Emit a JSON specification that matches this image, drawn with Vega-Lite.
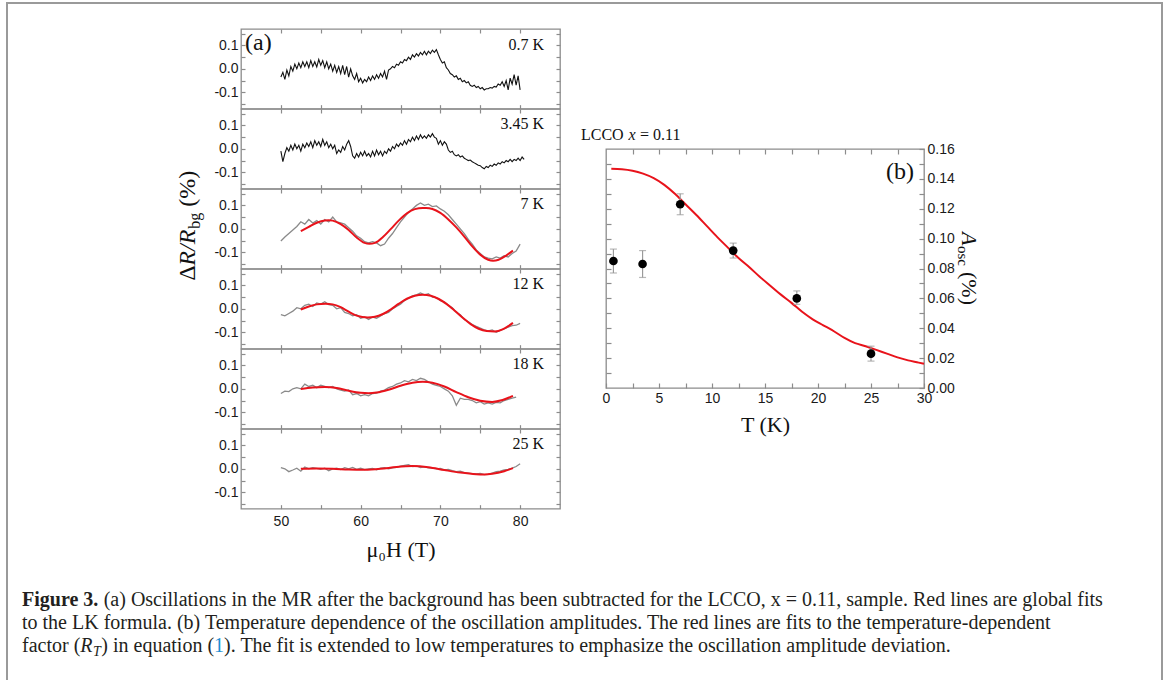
{
"$schema": "https://vega.github.io/schema/vega-lite/v6.json",
"padding": {"left": 6, "top": 2, "right": 0, "bottom": 0},
"background": "white",
"config": {
 "font": "Liberation Serif",
 "view": {"stroke": "#8c8c8c", "strokeWidth": 1.3},
 "axis": {"grid": false, "domain": false, "tickColor": "#8c8c8c", "tickWidth": 1.2, "labelFont": "Liberation Sans", "labelFontSize": 14, "labelColor": "#1a1a1a", "labelFlush": false, "labelOverlap": false, "titleFont": "Liberation Serif", "titleFontWeight": "normal", "titleColor": "#111111", "titleFontSize": 22},
 "text": {"font": "Liberation Serif", "color": "#111111"}
},
"datasets": {
 "black": [
  {"x":50,"a":-0.035,"b":-0.01},{"x":50.25,"a":-0.015,"b":-0.055},{"x":50.5,"a":-0.045,"b":-0.02},{"x":50.75,"a":-0.005,"b":0.005},
  {"x":51,"a":-0.03,"b":-0.01},{"x":51.25,"a":0.01,"b":0.015},{"x":51.5,"a":-0.01,"b":-0.005},{"x":51.75,"a":0.02,"b":0.02},
  {"x":52,"a":0.0,"b":0.0},{"x":52.25,"a":0.025,"b":0.015},{"x":52.5,"a":0.005,"b":-0.01},{"x":52.75,"a":0.03,"b":0.02},
  {"x":53,"a":0.01,"b":0.005},{"x":53.25,"a":0.03,"b":0.025},{"x":53.5,"a":0.005,"b":0.01},{"x":53.75,"a":0.035,"b":0.03},
  {"x":54,"a":0.01,"b":0.005},{"x":54.25,"a":0.03,"b":0.035},{"x":54.5,"a":0.008,"b":0.015},{"x":54.75,"a":0.04,"b":0.03},
  {"x":55,"a":0.015,"b":0.01},{"x":55.25,"a":0.035,"b":0.04},{"x":55.5,"a":0.005,"b":0.015},{"x":55.75,"a":0.03,"b":0.03},
  {"x":56,"a":0.0,"b":0.005},{"x":56.25,"a":0.02,"b":0.02},{"x":56.5,"a":-0.01,"b":0.0},{"x":56.75,"a":0.015,"b":0.015},
  {"x":57,"a":-0.015,"b":-0.02},{"x":57.25,"a":0.01,"b":-0.005},{"x":57.5,"a":-0.02,"b":-0.015},{"x":57.75,"a":0.015,"b":0.01},
  {"x":58,"a":-0.025,"b":-0.005},{"x":58.25,"a":0.01,"b":0.02},{"x":58.5,"a":-0.035,"b":0.035},{"x":58.75,"a":0.0,"b":0.01},
  {"x":59,"a":-0.03,"b":-0.03},{"x":59.25,"a":-0.045,"b":-0.04},{"x":59.5,"a":-0.02,"b":-0.02},{"x":59.75,"a":-0.055,"b":-0.035},
  {"x":60,"a":-0.04,"b":-0.015},{"x":60.25,"a":-0.06,"b":-0.03},{"x":60.5,"a":-0.045,"b":-0.01},{"x":60.75,"a":-0.055,"b":-0.03},
  {"x":61,"a":-0.035,"b":-0.02},{"x":61.25,"a":-0.05,"b":-0.035},{"x":61.5,"a":-0.03,"b":-0.01},{"x":61.75,"a":-0.045,"b":-0.03},
  {"x":62,"a":-0.025,"b":-0.005},{"x":62.25,"a":-0.04,"b":-0.025},{"x":62.5,"a":-0.02,"b":-0.01},{"x":62.75,"a":-0.035,"b":-0.03},
  {"x":63,"a":-0.01,"b":-0.01},{"x":63.25,"a":-0.045,"b":-0.02},{"x":63.5,"a":-0.005,"b":0.0},{"x":63.75,"a":0.0,"b":-0.01},
  {"x":64,"a":0.01,"b":0.01},{"x":64.25,"a":0.005,"b":0.0},{"x":64.5,"a":0.02,"b":0.02},{"x":64.75,"a":0.015,"b":0.01},
  {"x":65,"a":0.03,"b":0.025},{"x":65.25,"a":0.025,"b":0.015},{"x":65.5,"a":0.04,"b":0.035},{"x":65.75,"a":0.035,"b":0.02},
  {"x":66,"a":0.05,"b":0.04},{"x":66.25,"a":0.04,"b":0.03},{"x":66.5,"a":0.06,"b":0.05},{"x":66.75,"a":0.05,"b":0.035},
  {"x":67,"a":0.065,"b":0.055},{"x":67.25,"a":0.055,"b":0.04},{"x":67.5,"a":0.07,"b":0.06},{"x":67.75,"a":0.06,"b":0.045},
  {"x":68,"a":0.075,"b":0.055},{"x":68.25,"a":0.06,"b":0.045},{"x":68.5,"a":0.075,"b":0.06},{"x":68.75,"a":0.065,"b":0.05},
  {"x":69,"a":0.08,"b":0.065},{"x":69.25,"a":0.07,"b":0.05},{"x":69.5,"a":0.082,"b":0.045},{"x":69.75,"a":0.06,"b":0.02},
  {"x":70,"a":0.04,"b":0.035},{"x":70.25,"a":0.025,"b":0.015},{"x":70.5,"a":0.03,"b":0.03},{"x":70.75,"a":0.005,"b":0.02},
  {"x":71,"a":-0.005,"b":-0.005},{"x":71.25,"a":-0.02,"b":-0.015},{"x":71.5,"a":-0.025,"b":-0.01},{"x":71.75,"a":-0.035,"b":-0.025},
  {"x":72,"a":-0.03,"b":-0.03},{"x":72.25,"a":-0.045,"b":-0.025},{"x":72.5,"a":-0.04,"b":-0.035},{"x":72.75,"a":-0.055,"b":-0.03},
  {"x":73,"a":-0.05,"b":-0.04},{"x":73.25,"a":-0.06,"b":-0.045},{"x":73.5,"a":-0.055,"b":-0.05},{"x":73.75,"a":-0.07,"b":-0.048},
  {"x":74,"a":-0.075,"b":-0.055},{"x":74.25,"a":-0.07,"b":-0.06},{"x":74.5,"a":-0.08,"b":-0.065},{"x":74.75,"a":-0.075,"b":-0.07},
  {"x":75,"a":-0.085,"b":-0.072},{"x":75.25,"a":-0.08,"b":-0.08},{"x":75.5,"a":-0.09,"b":-0.085},{"x":75.75,"a":-0.085,"b":-0.075},
  {"x":76,"a":-0.085,"b":-0.08},{"x":76.25,"a":-0.08,"b":-0.07},{"x":76.5,"a":-0.082,"b":-0.075},{"x":76.75,"a":-0.075,"b":-0.065},
  {"x":77,"a":-0.078,"b":-0.07},{"x":77.25,"a":-0.065,"b":-0.06},{"x":77.5,"a":-0.07,"b":-0.065},{"x":77.75,"a":-0.055,"b":-0.055},
  {"x":78,"a":-0.075,"b":-0.06},{"x":78.25,"a":-0.05,"b":-0.05},{"x":78.5,"a":-0.09,"b":-0.055},{"x":78.75,"a":-0.04,"b":-0.045},
  {"x":79,"a":-0.065,"b":-0.055},{"x":79.25,"a":-0.025,"b":-0.045},{"x":79.5,"a":-0.07,"b":-0.05},{"x":79.75,"a":-0.03,"b":-0.04},
  {"x":80,"a":-0.09,"b":-0.05},{"x":80.25,"b":-0.035},{"x":80.5,"b":-0.045}
 ],
 "gray": [
  {"x":50,"g7":-0.052,"g12":-0.025,"g18":-0.02,"g25":0.005},
  {"x":50.5,"g7":-0.035,"g12":-0.03,"g18":-0.01,"g25":0.0},
  {"x":51,"g7":-0.02,"g12":-0.02,"g18":-0.012,"g25":-0.012},
  {"x":51.5,"g7":-0.005,"g12":-0.01,"g18":0.0,"g25":-0.005},
  {"x":52,"g7":0.01,"g12":0.005,"g18":0.005,"g25":0.003},
  {"x":52.5,"g7":0.03,"g12":0.0,"g18":0.0,"g25":-0.01},
  {"x":53,"g7":0.02,"g12":0.015,"g18":0.02,"g25":0.008},
  {"x":53.5,"g7":0.04,"g12":0.02,"g18":0.01,"g25":0.0},
  {"x":54,"g7":0.025,"g12":0.01,"g18":0.015,"g25":0.005},
  {"x":54.5,"g7":0.035,"g12":0.025,"g18":0.005,"g25":0.002},
  {"x":55,"g7":0.02,"g12":0.02,"g18":0.015,"g25":-0.002},
  {"x":55.5,"g7":0.04,"g12":0.03,"g18":0.01,"g25":0.003},
  {"x":56,"g7":0.03,"g12":0.018,"g18":0.005,"g25":-0.008},
  {"x":56.5,"g7":0.05,"g12":0.015,"g18":0.01,"g25":0.0},
  {"x":57,"g7":0.03,"g12":0.0,"g18":0.0,"g25":0.003},
  {"x":57.5,"g7":0.025,"g12":0.005,"g18":-0.005,"g25":-0.003},
  {"x":58,"g7":0.02,"g12":-0.015,"g18":-0.01,"g25":0.005},
  {"x":58.5,"g7":0.005,"g12":-0.02,"g18":-0.005,"g25":0.0},
  {"x":59,"g7":-0.01,"g12":-0.03,"g18":-0.025,"g25":0.006},
  {"x":59.5,"g7":-0.03,"g12":-0.025,"g18":-0.02,"g25":-0.002},
  {"x":60,"g7":-0.04,"g12":-0.04,"g18":-0.03,"g25":0.003},
  {"x":60.5,"g7":-0.055,"g12":-0.035,"g18":-0.025,"g25":-0.003},
  {"x":61,"g7":-0.06,"g12":-0.045,"g18":-0.03,"g25":0.0},
  {"x":61.5,"g7":-0.055,"g12":-0.035,"g18":-0.02,"g25":0.002},
  {"x":62,"g7":-0.06,"g12":-0.04,"g18":-0.018,"g25":-0.004},
  {"x":62.5,"g7":-0.072,"g12":-0.03,"g18":-0.01,"g25":0.003},
  {"x":63,"g7":-0.065,"g12":-0.02,"g18":-0.005,"g25":0.005},
  {"x":63.5,"g7":-0.04,"g12":-0.015,"g18":0.005,"g25":0.0},
  {"x":64,"g7":-0.02,"g12":0.0,"g18":0.01,"g25":0.004},
  {"x":64.5,"g7":0.005,"g12":0.01,"g18":0.02,"g25":0.006},
  {"x":65,"g7":0.03,"g12":0.02,"g18":0.025,"g25":0.012},
  {"x":65.5,"g7":0.05,"g12":0.035,"g18":0.035,"g25":0.015},
  {"x":66,"g7":0.07,"g12":0.045,"g18":0.03,"g25":0.018},
  {"x":66.5,"g7":0.085,"g12":0.055,"g18":0.04,"g25":0.01},
  {"x":67,"g7":0.1,"g12":0.06,"g18":0.035,"g25":0.012},
  {"x":67.5,"g7":0.11,"g12":0.068,"g18":0.045,"g25":0.005},
  {"x":68,"g7":0.1,"g12":0.06,"g18":0.04,"g25":0.008},
  {"x":68.5,"g7":0.105,"g12":0.065,"g18":0.03,"g25":0.004},
  {"x":69,"g7":0.095,"g12":0.05,"g18":0.02,"g25":0.003},
  {"x":69.5,"g7":0.098,"g12":0.048,"g18":0.015,"g25":0.0},
  {"x":70,"g7":0.085,"g12":0.035,"g18":0.01,"g25":0.002},
  {"x":70.5,"g7":0.075,"g12":0.03,"g18":0.0,"g25":-0.004},
  {"x":71,"g7":0.06,"g12":0.015,"g18":-0.01,"g25":-0.002},
  {"x":71.5,"g7":0.04,"g12":0.005,"g18":-0.03,"g25":-0.008},
  {"x":72,"g7":0.02,"g12":-0.015,"g18":-0.07,"g25":-0.012},
  {"x":72.5,"g7":0.0,"g12":-0.025,"g18":-0.04,"g25":-0.01},
  {"x":73,"g7":-0.02,"g12":-0.045,"g18":-0.045,"g25":-0.016},
  {"x":73.5,"g7":-0.045,"g12":-0.055,"g18":-0.045,"g25":-0.018},
  {"x":74,"g7":-0.065,"g12":-0.067,"g18":-0.05,"g25":-0.02},
  {"x":74.5,"g7":-0.09,"g12":-0.075,"g18":-0.06,"g25":-0.022},
  {"x":75,"g7":-0.105,"g12":-0.082,"g18":-0.055,"g25":-0.02},
  {"x":75.5,"g7":-0.12,"g12":-0.09,"g18":-0.065,"g25":-0.025},
  {"x":76,"g7":-0.125,"g12":-0.094,"g18":-0.06,"g25":-0.024},
  {"x":76.5,"g7":-0.128,"g12":-0.09,"g18":-0.065,"g25":-0.018},
  {"x":77,"g7":-0.12,"g12":-0.1,"g18":-0.058,"g25":-0.012},
  {"x":77.5,"g7":-0.125,"g12":-0.092,"g18":-0.06,"g25":-0.01},
  {"x":78,"g7":-0.115,"g12":-0.085,"g18":-0.05,"g25":-0.005},
  {"x":78.5,"g7":-0.12,"g12":-0.078,"g18":-0.045,"g25":-0.002},
  {"x":79,"g7":-0.105,"g12":-0.072,"g18":-0.04,"g25":0.003},
  {"x":79.5,"g7":-0.095,"g12":-0.07,"g18":-0.035,"g25":0.01},
  {"x":80,"g7":-0.065,"g12":-0.062,"g25":0.022}
 ],
 "fits": [
  {"k":"7","x":52.5,"y":-0.010},{"k":"7","x":53.5,"y":0.008},{"k":"7","x":54.5,"y":0.026},{"k":"7","x":55.5,"y":0.036},{"k":"7","x":56.0,"y":0.037},{"k":"7","x":56.5,"y":0.035},{"k":"7","x":57.5,"y":0.020},{"k":"7","x":58.5,"y":-0.005},{"k":"7","x":59.5,"y":-0.037},{"k":"7","x":60.5,"y":-0.060},{"k":"7","x":61.1,"y":-0.064},{"k":"7","x":61.8,"y":-0.060},{"k":"7","x":62.8,"y":-0.035},{"k":"7","x":63.8,"y":0.000},{"k":"7","x":64.8,"y":0.036},{"k":"7","x":65.8,"y":0.066},{"k":"7","x":66.8,"y":0.084},{"k":"7","x":67.8,"y":0.089},{"k":"7","x":68.2,"y":0.089},{"k":"7","x":69.0,"y":0.085},{"k":"7","x":70.0,"y":0.068},{"k":"7","x":71.0,"y":0.040},{"k":"7","x":72.0,"y":0.006},{"k":"7","x":73.0,"y":-0.033},{"k":"7","x":74.0,"y":-0.075},{"k":"7","x":75.0,"y":-0.110},{"k":"7","x":76.0,"y":-0.132},{"k":"7","x":76.6,"y":-0.136},{"k":"7","x":77.3,"y":-0.132},{"k":"7","x":78.2,"y":-0.115},{"k":"7","x":79.1,"y":-0.093},
  {"k":"12","x":52.5,"y":-0.003},{"k":"12","x":53.5,"y":0.010},{"k":"12","x":54.5,"y":0.019},{"k":"12","x":55.6,"y":0.022},{"k":"12","x":56.5,"y":0.019},{"k":"12","x":57.5,"y":0.007},{"k":"12","x":58.5,"y":-0.012},{"k":"12","x":59.5,"y":-0.029},{"k":"12","x":60.9,"y":-0.037},{"k":"12","x":61.8,"y":-0.034},{"k":"12","x":62.8,"y":-0.022},{"k":"12","x":63.8,"y":-0.002},{"k":"12","x":64.8,"y":0.022},{"k":"12","x":65.8,"y":0.043},{"k":"12","x":66.8,"y":0.056},{"k":"12","x":67.8,"y":0.060},{"k":"12","x":68.8,"y":0.056},{"k":"12","x":69.8,"y":0.042},{"k":"12","x":70.8,"y":0.020},{"k":"12","x":71.8,"y":-0.008},{"k":"12","x":72.8,"y":-0.038},{"k":"12","x":73.8,"y":-0.065},{"k":"12","x":74.8,"y":-0.085},{"k":"12","x":75.8,"y":-0.095},{"k":"12","x":76.8,"y":-0.097},{"k":"12","x":77.8,"y":-0.088},{"k":"12","x":78.5,"y":-0.074},{"k":"12","x":79.1,"y":-0.060},
  {"k":"18","x":52.5,"y":-0.001},{"k":"18","x":54.0,"y":0.006},{"k":"18","x":55.5,"y":0.008},{"k":"18","x":57.0,"y":0.004},{"k":"18","x":58.5,"y":-0.008},{"k":"18","x":60.0,"y":-0.017},{"k":"18","x":61.0,"y":-0.019},{"k":"18","x":62.0,"y":-0.016},{"k":"18","x":63.5,"y":-0.004},{"k":"18","x":65.0,"y":0.013},{"k":"18","x":66.5,"y":0.026},{"k":"18","x":67.8,"y":0.030},{"k":"18","x":69.0,"y":0.026},{"k":"18","x":70.5,"y":0.010},{"k":"18","x":72.0,"y":-0.014},{"k":"18","x":73.5,"y":-0.036},{"k":"18","x":75.0,"y":-0.051},{"k":"18","x":76.5,"y":-0.056},{"k":"18","x":77.8,"y":-0.048},{"k":"18","x":79.1,"y":-0.030},
  {"k":"25","x":52.5,"y":0.0},{"k":"25","x":54.5,"y":0.001},{"k":"25","x":56.5,"y":0.0},{"k":"25","x":58.5,"y":-0.003},{"k":"25","x":60.5,"y":-0.004},{"k":"25","x":62.5,"y":0.0},{"k":"25","x":64.5,"y":0.008},{"k":"25","x":66.5,"y":0.012},{"k":"25","x":68.5,"y":0.007},{"k":"25","x":70.5,"y":-0.005},{"k":"25","x":72.5,"y":-0.016},{"k":"25","x":74.5,"y":-0.023},{"k":"25","x":75.5,"y":-0.024},{"k":"25","x":76.5,"y":-0.021},{"k":"25","x":78.0,"y":-0.010},{"k":"25","x":79.1,"y":0.003}
 ],
 "fitB": [
  {"T":0.5,"A":0.1468},{"T":1.5,"A":0.1465},{"T":2.5,"A":0.1455},{"T":3.5,"A":0.1435},{"T":4.5,"A":0.1405},{"T":5.5,"A":0.136},{"T":6.5,"A":0.130},{"T":7.5,"A":0.123},{"T":8.5,"A":0.116},{"T":9.5,"A":0.1085},{"T":10.5,"A":0.101},{"T":11.5,"A":0.094},{"T":12.5,"A":0.087},{"T":13.5,"A":0.081},{"T":14.5,"A":0.0745},{"T":15.5,"A":0.0685},{"T":16.5,"A":0.0625},{"T":17.5,"A":0.057},{"T":18.5,"A":0.051},{"T":19.5,"A":0.046},{"T":20.5,"A":0.042},{"T":21.5,"A":0.038},{"T":22.5,"A":0.0335},{"T":23.5,"A":0.030},{"T":24.5,"A":0.028},{"T":25.5,"A":0.0255},{"T":26.5,"A":0.023},{"T":27.5,"A":0.0205},{"T":28.5,"A":0.0185},{"T":29.5,"A":0.017},{"T":30,"A":0.0162}
 ],
 "pts": [
  {"T":0.7,"A":0.085,"lo":0.077,"hi":0.093},{"T":3.45,"A":0.083,"lo":0.074,"hi":0.092},{"T":7,"A":0.123,"lo":0.116,"hi":0.130},{"T":12,"A":0.092,"lo":0.087,"hi":0.097},{"T":18,"A":0.060,"lo":0.056,"hi":0.065},{"T":25,"A":0.023,"lo":0.018,"hi":0.028}
 ],
 "caption": [
  {"line":1,"part":"b","text":"Figure 3."},
  {"line":1,"part":"a1","text":"(a) Oscillations in the MR after the background has been subtracted for the LCCO, x = 0.11, sample. Red lines are global fits"},
  {"line":2,"part":"l2","text":"to the LK formula. (b) Temperature dependence of the oscillation amplitudes. The red lines are fits to the temperature-dependent"},
  {"line":3,"part":"c1","text":"factor ("},
  {"line":3,"part":"cR","text":"R"},
  {"line":3,"part":"cT","text":"T"},
  {"line":3,"part":"c2","text":") in equation ("},
  {"line":3,"part":"cB","text":"1"},
  {"line":3,"part":"c3","text":"). The fit is extended to low temperatures to emphasize the oscillation amplitude deviation."}
 ]
},
"spacing": 0,
"bounds": "full",
"vconcat": [
 {"width": 1157, "height": 2, "data": {"values": []}, "mark": {"type": "point", "opacity": 0}, "encoding": {}, "view": {"stroke": null, "fill": "#9a9a9a"}},
 {"spacing": 0, "bounds": "full", "hconcat": [
  {"width": 2, "height": 676, "data": {"values": []}, "mark": {"type": "point", "opacity": 0}, "encoding": {}, "view": {"stroke": null, "fill": "#9a9a9a"}},
  {"spacing": 0, "bounds": "full", "vconcat": [
   {"width": 1, "height": 21.5, "data": {"values": []}, "mark": {"type": "point", "opacity": 0}, "encoding": {}, "view": {"stroke": null}},
   {"spacing": 0, "bounds": "full", "hconcat": [
    {"width": 167, "height": 1, "data": {"values": []}, "mark": {"type": "point", "opacity": 0}, "encoding": {}, "view": {"stroke": null}},
    {"spacing": 0, "bounds": "flush", "vconcat": [
     {"width": 319, "height": 79.67,
      "layer": [
       {"data": {"name": "black"}, "mark": {"type": "line", "color": "#111111", "strokeWidth": 1.1},
        "encoding": {
         "x": {"field": "x", "type": "quantitative", "scale": {"domain": [45, 85], "nice": false, "zero": false}, "axis": {"orient": "bottom", "values": [50,55,60,65,70,75,80], "labels": false, "tickSize": -4, "title": null}},
         "y": {"field": "a", "type": "quantitative", "scale": {"domain": [-0.17, 0.17], "nice": false, "zero": false}, "axis": {"orient": "left", "values": [-0.15,-0.1,-0.05,0,0.05,0.1,0.15], "tickSize": -4, "labelPadding": 7, "title": null, "labelExpr": "datum.value == 0.1 || datum.value == -0.1 || datum.value == 0 ? replace(format(datum.value, '.1f'), '−', '-') : ''"}}
        }},
       {"data": {"values": [{"label": "0.7 K"}]}, "mark": {"type": "text", "align": "right", "baseline": "alphabetic", "dx": -16, "dy": 21, "fontSize": 16},
        "encoding": {
         "x": {"datum": 85, "type": "quantitative", "axis": {"orient": "top", "values": [50,55,60,65,70,75,80], "labels": false, "tickSize": -4, "title": null}},
         "y": {"datum": 0.17, "type": "quantitative", "axis": {"orient": "right", "values": [-0.15,-0.1,-0.05,0,0.05,0.1,0.15], "labels": false, "tickSize": -4, "title": null}},
         "text": {"field": "label"}}},
       {"data": {"values": [{"label": "(a)"}]}, "mark": {"type": "text", "align": "left", "baseline": "top", "dx": 4, "dy": 2, "fontSize": 24},
        "encoding": {"x": {"datum": 45, "type": "quantitative", "axis": null}, "y": {"datum": 0.17, "type": "quantitative", "axis": null}, "text": {"field": "label"}}}
      ],
      "resolve": {"axis": {"x": "independent", "y": "independent"}}},
     {"width": 319, "height": 79.67,
      "layer": [
       {"data": {"name": "black"}, "mark": {"type": "line", "color": "#111111", "strokeWidth": 1.1},
        "encoding": {
         "x": {"field": "x", "type": "quantitative", "scale": {"domain": [45, 85], "nice": false, "zero": false}, "axis": {"orient": "bottom", "values": [50,55,60,65,70,75,80], "labels": false, "tickSize": -4, "title": null}},
         "y": {"field": "b", "type": "quantitative", "scale": {"domain": [-0.17, 0.17], "nice": false, "zero": false}, "axis": {"orient": "left", "values": [-0.15,-0.1,-0.05,0,0.05,0.1,0.15], "tickSize": -4, "labelPadding": 7, "title": null, "labelExpr": "datum.value == 0.1 || datum.value == -0.1 || datum.value == 0 ? replace(format(datum.value, '.1f'), '−', '-') : ''"}}
        }},
       {"data": {"values": [{"label": "3.45 K"}]}, "mark": {"type": "text", "align": "right", "baseline": "alphabetic", "dx": -16, "dy": 20, "fontSize": 16},
        "encoding": {
         "x": {"datum": 85, "type": "quantitative", "axis": {"orient": "top", "values": [50,55,60,65,70,75,80], "labels": false, "tickSize": -4, "title": null}},
         "y": {"datum": 0.17, "type": "quantitative", "axis": {"orient": "right", "values": [-0.15,-0.1,-0.05,0,0.05,0.1,0.15], "labels": false, "tickSize": -4, "title": null}},
         "text": {"field": "label"}}}
      ],
      "resolve": {"axis": {"x": "independent", "y": "independent"}}},
     {"width": 319, "height": 79.67,
      "layer": [
       {"data": {"name": "gray"}, "mark": {"type": "line", "color": "#8a8a8a", "strokeWidth": 1.3},
        "encoding": {
         "x": {"field": "x", "type": "quantitative", "scale": {"domain": [45, 85], "nice": false, "zero": false}, "axis": {"orient": "bottom", "values": [50,55,60,65,70,75,80], "labels": false, "tickSize": -4, "title": null}},
         "y": {"field": "g7", "type": "quantitative", "scale": {"domain": [-0.17, 0.17], "nice": false, "zero": false}, "axis": {"orient": "left", "values": [-0.15,-0.1,-0.05,0,0.05,0.1,0.15], "tickSize": -4, "labelPadding": 7, "title": null, "labelExpr": "datum.value == 0.1 || datum.value == -0.1 || datum.value == 0 ? replace(format(datum.value, '.1f'), '−', '-') : ''"}}
        }},
       {"data": {"name": "fits"}, "transform": [{"filter": "datum.k == '7'"}], "mark": {"type": "line", "color": "#e8131b", "strokeWidth": 2, "interpolate": "monotone"},
        "encoding": {"x": {"field": "x", "type": "quantitative", "axis": null}, "y": {"field": "y", "type": "quantitative", "axis": null}}},
       {"data": {"values": [{"label": "7 K"}]}, "mark": {"type": "text", "align": "right", "baseline": "alphabetic", "dx": -16, "dy": 20, "fontSize": 16},
        "encoding": {
         "x": {"datum": 85, "type": "quantitative", "axis": {"orient": "top", "values": [50,55,60,65,70,75,80], "labels": false, "tickSize": -4, "title": null}},
         "y": {"datum": 0.17, "type": "quantitative", "axis": {"orient": "right", "values": [-0.15,-0.1,-0.05,0,0.05,0.1,0.15], "labels": false, "tickSize": -4, "title": null}},
         "text": {"field": "label"}}},
       {"data": {"values": [{"t": "Δ"}]}, "mark": {"type": "text", "angle": 270, "align": "left", "baseline": "middle", "dx": -12, "dy": -53, "fontSize": 24},
        "encoding": {"x": {"datum": 45, "type": "quantitative", "axis": null}, "y": {"datum": -0.17, "type": "quantitative", "axis": null}, "text": {"field": "t"}}},
       {"data": {"values": [{"t": "R/R"}]}, "mark": {"type": "text", "angle": 270, "align": "left", "baseline": "middle", "dx": 3, "dy": -53, "fontSize": 24, "fontStyle": "italic"},
        "encoding": {"x": {"datum": 45, "type": "quantitative", "axis": null}, "y": {"datum": -0.17, "type": "quantitative", "axis": null}, "text": {"field": "t"}}},
       {"data": {"values": [{"t": "bg"}]}, "mark": {"type": "text", "angle": 270, "align": "left", "baseline": "middle", "dx": 40, "dy": -46, "fontSize": 16},
        "encoding": {"x": {"datum": 45, "type": "quantitative", "axis": null}, "y": {"datum": -0.17, "type": "quantitative", "axis": null}, "text": {"field": "t"}}},
       {"data": {"values": [{"t": "(%)"}]}, "mark": {"type": "text", "angle": 270, "align": "left", "baseline": "middle", "dx": 62, "dy": -53, "fontSize": 24},
        "encoding": {"x": {"datum": 45, "type": "quantitative", "axis": null}, "y": {"datum": -0.17, "type": "quantitative", "axis": null}, "text": {"field": "t"}}}
      ],
      "resolve": {"axis": {"x": "independent", "y": "independent"}}},
     {"width": 319, "height": 79.67,
      "layer": [
       {"data": {"name": "gray"}, "mark": {"type": "line", "color": "#8a8a8a", "strokeWidth": 1.3},
        "encoding": {
         "x": {"field": "x", "type": "quantitative", "scale": {"domain": [45, 85], "nice": false, "zero": false}, "axis": {"orient": "bottom", "values": [50,55,60,65,70,75,80], "labels": false, "tickSize": -4, "title": null}},
         "y": {"field": "g12", "type": "quantitative", "scale": {"domain": [-0.17, 0.17], "nice": false, "zero": false}, "axis": {"orient": "left", "values": [-0.15,-0.1,-0.05,0,0.05,0.1,0.15], "tickSize": -4, "labelPadding": 7, "title": null, "labelExpr": "datum.value == 0.1 || datum.value == -0.1 || datum.value == 0 ? replace(format(datum.value, '.1f'), '−', '-') : ''"}}
        }},
       {"data": {"name": "fits"}, "transform": [{"filter": "datum.k == '12'"}], "mark": {"type": "line", "color": "#e8131b", "strokeWidth": 2, "interpolate": "monotone"},
        "encoding": {"x": {"field": "x", "type": "quantitative", "axis": null}, "y": {"field": "y", "type": "quantitative", "axis": null}}},
       {"data": {"values": [{"label": "12 K"}]}, "mark": {"type": "text", "align": "right", "baseline": "alphabetic", "dx": -16, "dy": 20, "fontSize": 16},
        "encoding": {
         "x": {"datum": 85, "type": "quantitative", "axis": {"orient": "top", "values": [50,55,60,65,70,75,80], "labels": false, "tickSize": -4, "title": null}},
         "y": {"datum": 0.17, "type": "quantitative", "axis": {"orient": "right", "values": [-0.15,-0.1,-0.05,0,0.05,0.1,0.15], "labels": false, "tickSize": -4, "title": null}},
         "text": {"field": "label"}}}
      ],
      "resolve": {"axis": {"x": "independent", "y": "independent"}}},
     {"width": 319, "height": 79.67,
      "layer": [
       {"data": {"name": "gray"}, "mark": {"type": "line", "color": "#8a8a8a", "strokeWidth": 1.3},
        "encoding": {
         "x": {"field": "x", "type": "quantitative", "scale": {"domain": [45, 85], "nice": false, "zero": false}, "axis": {"orient": "bottom", "values": [50,55,60,65,70,75,80], "labels": false, "tickSize": -4, "title": null}},
         "y": {"field": "g18", "type": "quantitative", "scale": {"domain": [-0.17, 0.17], "nice": false, "zero": false}, "axis": {"orient": "left", "values": [-0.15,-0.1,-0.05,0,0.05,0.1,0.15], "tickSize": -4, "labelPadding": 7, "title": null, "labelExpr": "datum.value == 0.1 || datum.value == -0.1 || datum.value == 0 ? replace(format(datum.value, '.1f'), '−', '-') : ''"}}
        }},
       {"data": {"name": "fits"}, "transform": [{"filter": "datum.k == '18'"}], "mark": {"type": "line", "color": "#e8131b", "strokeWidth": 2, "interpolate": "monotone"},
        "encoding": {"x": {"field": "x", "type": "quantitative", "axis": null}, "y": {"field": "y", "type": "quantitative", "axis": null}}},
       {"data": {"values": [{"label": "18 K"}]}, "mark": {"type": "text", "align": "right", "baseline": "alphabetic", "dx": -16, "dy": 20, "fontSize": 16},
        "encoding": {
         "x": {"datum": 85, "type": "quantitative", "axis": {"orient": "top", "values": [50,55,60,65,70,75,80], "labels": false, "tickSize": -4, "title": null}},
         "y": {"datum": 0.17, "type": "quantitative", "axis": {"orient": "right", "values": [-0.15,-0.1,-0.05,0,0.05,0.1,0.15], "labels": false, "tickSize": -4, "title": null}},
         "text": {"field": "label"}}}
      ],
      "resolve": {"axis": {"x": "independent", "y": "independent"}}},
     {"width": 319, "height": 79.67,
      "layer": [
       {"data": {"name": "gray"}, "mark": {"type": "line", "color": "#8a8a8a", "strokeWidth": 1.3},
        "encoding": {
         "x": {"field": "x", "type": "quantitative", "scale": {"domain": [45, 85], "nice": false, "zero": false}, "axis": {"orient": "bottom", "values": [50,55,60,65,70,75,80], "tickSize": -4, "labelPadding": 10, "labelExpr": "datum.value % 10 == 0 ? datum.label : ''", "title": "μ₀H (T)", "titlePadding": 11}},
         "y": {"field": "g25", "type": "quantitative", "scale": {"domain": [-0.17, 0.17], "nice": false, "zero": false}, "axis": {"orient": "left", "values": [-0.15,-0.1,-0.05,0,0.05,0.1,0.15], "tickSize": -4, "labelPadding": 7, "title": null, "labelExpr": "datum.value == 0.1 || datum.value == -0.1 || datum.value == 0 ? replace(format(datum.value, '.1f'), '−', '-') : ''"}}
        }},
       {"data": {"name": "fits"}, "transform": [{"filter": "datum.k == '25'"}], "mark": {"type": "line", "color": "#e8131b", "strokeWidth": 2, "interpolate": "monotone"},
        "encoding": {"x": {"field": "x", "type": "quantitative", "axis": null}, "y": {"field": "y", "type": "quantitative", "axis": null}}},
       {"data": {"values": [{"label": "25 K"}]}, "mark": {"type": "text", "align": "right", "baseline": "alphabetic", "dx": -16, "dy": 20, "fontSize": 16},
        "encoding": {
         "x": {"datum": 85, "type": "quantitative", "axis": {"orient": "top", "values": [50,55,60,65,70,75,80], "labels": false, "tickSize": -4, "title": null}},
         "y": {"datum": 0.17, "type": "quantitative", "axis": {"orient": "right", "values": [-0.15,-0.1,-0.05,0,0.05,0.1,0.15], "labels": false, "tickSize": -4, "title": null}},
         "text": {"field": "label"}}}
      ],
      "resolve": {"axis": {"x": "independent", "y": "independent"}}}
    ]},
    {"width": 18, "height": 1, "data": {"values": []}, "mark": {"type": "point", "opacity": 0}, "encoding": {}, "view": {"stroke": null}},
    {"spacing": 0, "bounds": "flush", "vconcat": [
     {"width": 1, "height": 120, "data": {"values": []}, "mark": {"type": "point", "opacity": 0}, "encoding": {}, "view": {"stroke": null}},
     {"width": 318, "height": 239,
      "layer": [
       {"data": {"name": "fitB"}, "mark": {"type": "line", "color": "#e8131b", "strokeWidth": 2, "interpolate": "monotone"},
        "encoding": {
         "x": {"field": "T", "type": "quantitative", "scale": {"domain": [0, 30], "nice": false, "zero": false}, "axis": {"orient": "top", "values": [2.5,5,7.5,10,12.5,15,17.5,20,22.5,25,27.5], "labels": false, "tickSize": -5, "title": null}},
         "y": {"field": "A", "type": "quantitative", "scale": {"domain": [0, 0.16], "nice": false, "zero": false}, "axis": {"orient": "left", "values": [0.01,0.02,0.03,0.04,0.05,0.06,0.07,0.08,0.09,0.1,0.11,0.12,0.13,0.14,0.15], "labels": false, "tickSize": -5, "title": null}}
        }},
       {"data": {"name": "pts"}, "mark": {"type": "errorbar", "color": "#9a9a9a", "ticks": {"size": 7, "thickness": 1.2}, "thickness": 1.2},
        "encoding": {"x": {"field": "T", "type": "quantitative", "axis": null}, "y": {"field": "lo", "type": "quantitative", "axis": null}, "y2": {"field": "hi"}}},
       {"data": {"name": "pts"}, "mark": {"type": "point", "filled": true, "color": "#000000", "size": 75, "opacity": 1},
        "encoding": {
         "x": {"field": "T", "type": "quantitative", "axis": {"orient": "bottom", "values": [0,2.5,5,7.5,10,12.5,15,17.5,20,22.5,25,27.5,30], "tickSize": -5, "labelPadding": 8, "labelExpr": "datum.value % 5 == 0 ? datum.label : ''", "title": "T (K)", "titlePadding": 9}},
         "y": {"field": "A", "type": "quantitative", "axis": {"orient": "right", "values": [0,0.01,0.02,0.03,0.04,0.05,0.06,0.07,0.08,0.09,0.1,0.11,0.12,0.13,0.14,0.15,0.16], "tickSize": -5, "labelPadding": 8, "title": null, "labelExpr": "round(datum.value*100) % 2 == 0 ? format(datum.value, '.2f') : ''"}}
        }},
       {"data": {"values": [{"t": "(b)"}]}, "mark": {"type": "text", "align": "right", "baseline": "top", "dx": -10, "dy": 11, "fontSize": 24},
        "encoding": {"x": {"datum": 30, "type": "quantitative", "axis": null}, "y": {"datum": 0.16, "type": "quantitative", "axis": null}, "text": {"field": "t"}}},
       {"data": {"values": [{"t": "LCCO"}]}, "mark": {"type": "text", "align": "left", "baseline": "alphabetic", "dx": -25, "dy": -9, "fontSize": 16},
        "encoding": {"x": {"datum": 0, "type": "quantitative", "axis": null}, "y": {"datum": 0.16, "type": "quantitative", "axis": null}, "text": {"field": "t"}}},
       {"data": {"values": [{"t": "x"}]}, "mark": {"type": "text", "align": "left", "baseline": "alphabetic", "dx": 22.5, "dy": -9, "fontSize": 16, "fontStyle": "italic"},
        "encoding": {"x": {"datum": 0, "type": "quantitative", "axis": null}, "y": {"datum": 0.16, "type": "quantitative", "axis": null}, "text": {"field": "t"}}},
       {"data": {"values": [{"t": "= 0.11"}]}, "mark": {"type": "text", "align": "left", "baseline": "alphabetic", "dx": 34, "dy": -9, "fontSize": 16},
        "encoding": {"x": {"datum": 0, "type": "quantitative", "axis": null}, "y": {"datum": 0.16, "type": "quantitative", "axis": null}, "text": {"field": "t"}}},
       {"data": {"values": [{"t": "A"}]}, "mark": {"type": "text", "angle": 90, "align": "left", "baseline": "middle", "dx": 83, "dy": -45, "fontSize": 22, "fontStyle": "italic"},
        "encoding": {"x": {"datum": 30, "type": "quantitative", "axis": null}, "y": {"datum": 0.16, "type": "quantitative", "axis": null}, "text": {"field": "t"}}},
       {"data": {"values": [{"t": "osc"}]}, "mark": {"type": "text", "angle": 90, "align": "left", "baseline": "middle", "dx": 97, "dy": -39, "fontSize": 15},
        "encoding": {"x": {"datum": 30, "type": "quantitative", "axis": null}, "y": {"datum": 0.16, "type": "quantitative", "axis": null}, "text": {"field": "t"}}},
       {"data": {"values": [{"t": "(%)"}]}, "mark": {"type": "text", "angle": 90, "align": "left", "baseline": "middle", "dx": 123, "dy": -45, "fontSize": 22},
        "encoding": {"x": {"datum": 30, "type": "quantitative", "axis": null}, "y": {"datum": 0.16, "type": "quantitative", "axis": null}, "text": {"field": "t"}}}
      ],
      "resolve": {"axis": {"x": "independent", "y": "independent"}}}
    ]}
   ]},
   {"width": 1153, "height": 118, "view": {"stroke": null},
    "data": {"name": "caption"},
    "encoding": {
     "x": {"datum": 0, "type": "quantitative", "scale": {"domain": [0, 1], "nice": false, "zero": false}, "axis": null},
     "y": {"field": "line", "type": "quantitative", "scale": {"domain": [-0.913, 4.217], "reverse": true, "nice": false, "zero": false}, "axis": null},
     "text": {"field": "text"}
    },
    "layer": [
     {"transform": [{"filter": "datum.part == 'b'"}], "mark": {"type": "text", "align": "left", "baseline": "alphabetic", "dx": 14, "fontSize": 20, "fontWeight": "bold", "color": "#231f20"}},
     {"transform": [{"filter": "datum.part == 'a1'"}], "mark": {"type": "text", "align": "left", "baseline": "alphabetic", "dx": 95.7, "fontSize": 20, "color": "#231f20"}},
     {"transform": [{"filter": "datum.part == 'l2'"}], "mark": {"type": "text", "align": "left", "baseline": "alphabetic", "dx": 14, "fontSize": 20, "color": "#231f20"}},
     {"transform": [{"filter": "datum.part == 'c1'"}], "mark": {"type": "text", "align": "left", "baseline": "alphabetic", "dx": 14, "fontSize": 20, "color": "#231f20"}},
     {"transform": [{"filter": "datum.part == 'cR'"}], "mark": {"type": "text", "align": "left", "baseline": "alphabetic", "dx": 72.3, "fontSize": 20, "fontStyle": "italic", "color": "#231f20"}},
     {"transform": [{"filter": "datum.part == 'cT'"}], "mark": {"type": "text", "align": "left", "baseline": "alphabetic", "dx": 85, "dy": 4, "fontSize": 14, "fontStyle": "italic", "color": "#231f20"}},
     {"transform": [{"filter": "datum.part == 'c2'"}], "mark": {"type": "text", "align": "left", "baseline": "alphabetic", "dx": 93.3, "fontSize": 20, "color": "#231f20"}},
     {"transform": [{"filter": "datum.part == 'cB'"}], "mark": {"type": "text", "align": "left", "baseline": "alphabetic", "dx": 206.1, "fontSize": 20, "color": "#1a8fd4"}},
     {"transform": [{"filter": "datum.part == 'c3'"}], "mark": {"type": "text", "align": "left", "baseline": "alphabetic", "dx": 216.1, "fontSize": 20, "color": "#231f20"}}
    ]}
  ]},
  {"width": 2, "height": 676, "data": {"values": []}, "mark": {"type": "point", "opacity": 0}, "encoding": {}, "view": {"stroke": null, "fill": "#9a9a9a"}}
 ]}
]
}
